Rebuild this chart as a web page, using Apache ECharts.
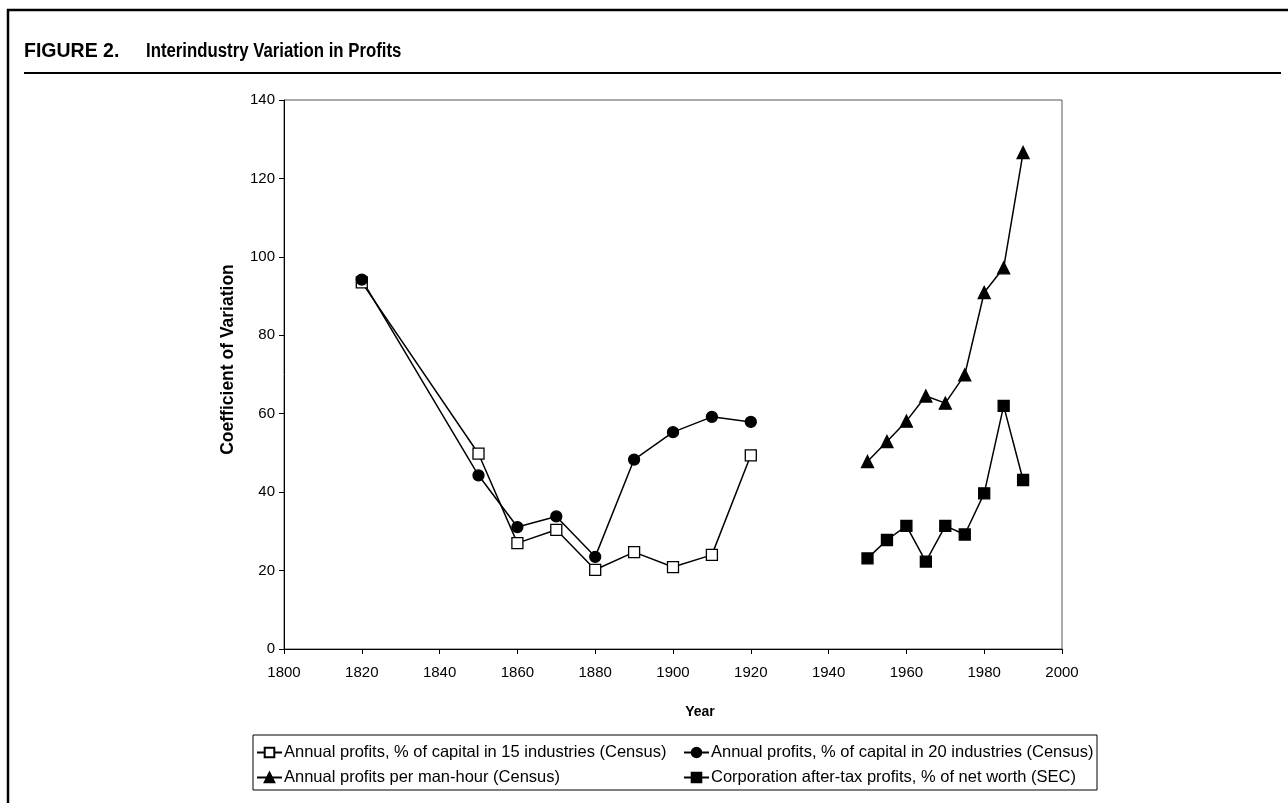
<!DOCTYPE html>
<html>
<head>
<meta charset="utf-8">
<script src="https://cdn.jsdelivr.net/npm/echarts@6/dist/echarts.min.js"></script>
<style>
  html, body { margin: 0; padding: 0; background: #fff; }
  #chart { width: 1288px; height: 803px; }
</style>
</head>
<body>
<div id="chart"></div>
<script>
// 数据
const censusYears = [1820, 1850, 1860, 1870, 1880, 1890, 1900, 1910, 1920];
const capital15 = [93.5, 49.8, 27.0, 30.4, 20.2, 24.7, 20.9, 24.0, 49.4];
const capital20 = [94.2, 44.3, 31.1, 33.8, 23.5, 48.3, 55.3, 59.2, 57.9];

const postwarYears = [1950, 1955, 1960, 1965, 1970, 1975, 1980, 1985, 1990];
const perManHour = [47.8, 52.9, 58.1, 64.5, 62.7, 69.9, 90.9, 97.2, 126.6];
const secProfits = [23.1, 27.8, 31.4, 22.3, 31.4, 29.2, 39.7, 62.0, 43.1];

const seriesNames = [
  'Annual profits, % of capital in 15 industries (Census)',
  'Annual profits, % of capital in 20 industries (Census)',
  'Annual profits per man-hour (Census)',
  'Corporation after-tax profits, % of net worth (SEC)'
];

const pairs = (xs, ys) => xs.map((x, i) => [x, ys[i]]);

const chart = echarts.init(document.getElementById('chart'));

const font = 'Liberation Sans, Arial, sans-serif';

const lineSeries = (name, data, symbol, size, fill) => ({
  name: name,
  type: 'line',
  data: data,
  symbol: symbol,
  symbolSize: size,
  showAllSymbol: true,
  lineStyle: { color: '#000', width: 1.5 },
  itemStyle: { color: fill, borderColor: '#000', borderWidth: 1.3 },
  emphasis: { disabled: true },
  animation: false
});

const legendBase = {
  orient: 'vertical',
  top: 739,
  itemWidth: 25, itemHeight: 12, itemGap: 8,
  textStyle: { fontFamily: font, fontSize: 16.5, color: '#000', padding: [0, 0, 0, -3] },
  selectedMode: false
};

const option = {
  backgroundColor: '#fff',
  animation: false,
  grid: {
    left: 284, right: 226, top: 100, bottom: 154,
    show: true, borderColor: '#555', borderWidth: 1, backgroundColor: 'transparent'
  },
  xAxis: {
    type: 'value',
    min: 1800, max: 2000, interval: 20,
    name: 'Year',
    nameLocation: 'middle',
    nameGap: 56,
    nameTextStyle: { fontFamily: font, fontWeight: 'bold', fontSize: 14, color: '#000', padding: [0, 0, 0, 54] },
    axisLine: { lineStyle: { color: '#000', width: 1 } },
    axisTick: { lineStyle: { color: '#000' }, length: 5 },
    axisLabel: { fontFamily: font, fontSize: 15, color: '#000', margin: 16, formatter: v => String(v) },
    splitLine: { show: false }
  },
  yAxis: {
    type: 'value',
    min: 0, max: 140, interval: 20,
    name: 'Coefficient of Variation',
    nameLocation: 'middle',
    nameGap: 47,
    nameTextStyle: { fontFamily: font, fontWeight: 'bold', fontSize: 17.5, color: '#000', padding: [0, 0, 0, 30] },
    axisLine: { show: true, lineStyle: { color: '#000', width: 1 } },
    axisTick: { show: true, lineStyle: { color: '#000' }, length: 5 },
    axisLabel: { fontFamily: font, fontSize: 15, color: '#000', margin: 9 },
    splitLine: { show: false }
  },
  legend: [
    Object.assign({ data: [seriesNames[0], seriesNames[2]], left: 251 }, legendBase),
    Object.assign({ data: [seriesNames[1], seriesNames[3]], left: 678 }, legendBase)
  ],
  graphic: [
    { type: 'polyline', shape: { points: [[8, 803], [8, 10], [1288, 10]] }, style: { stroke: '#000', lineWidth: 2.5, fill: null } },
    { type: 'line', shape: { x1: 24, y1: 73, x2: 1281, y2: 73 }, style: { stroke: '#000', lineWidth: 2 } },
    { type: 'text', x: 24, y: 42, style: { text: 'FIGURE 2.', font: 'bold 19.5px ' + font, fill: '#000' } },
    { type: 'text', x: 146, y: 42, scaleX: 0.86, style: { text: 'Interindustry Variation in Profits', font: 'bold 19.5px ' + font, fill: '#000' } },
    { type: 'rect', shape: { x: 253, y: 735, width: 844, height: 55 }, style: { stroke: '#000', lineWidth: 1, fill: null }, z: -1 }
  ],
  series: [
    lineSeries(seriesNames[0], pairs(censusYears, capital15), 'rect', 11, '#fff'),
    lineSeries(seriesNames[1], pairs(censusYears, capital20), 'circle', 11, '#000'),
    lineSeries(seriesNames[2], pairs(postwarYears, perManHour), 'triangle', 12, '#000'),
    lineSeries(seriesNames[3], pairs(postwarYears, secProfits), 'rect', 11, '#000')
  ]
};

chart.setOption(option);
</script>
</body>
</html>
